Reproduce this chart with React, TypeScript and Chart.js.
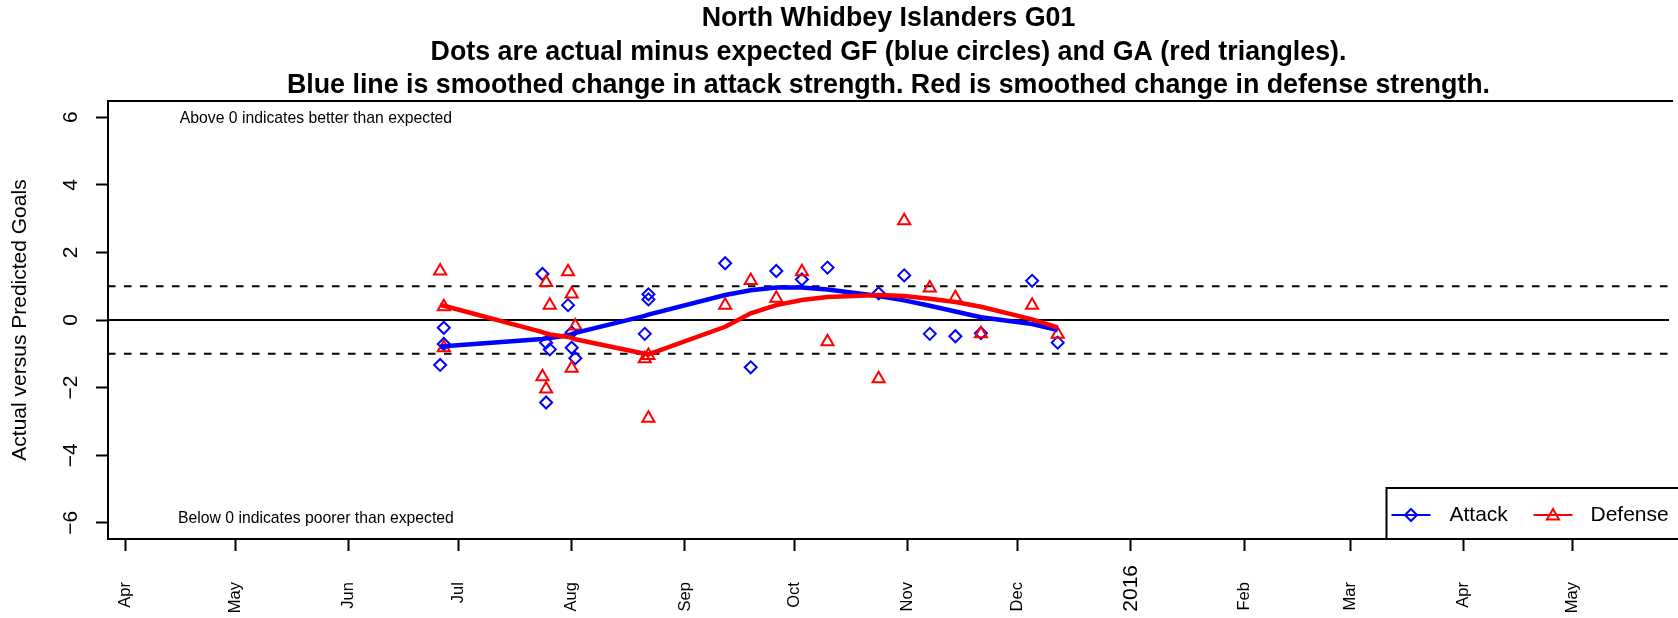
import React, { useEffect, useRef } from 'react';
import { Chart, registerables } from 'chart.js';

Chart.register(...registerables);

const FONT = "'Liberation Sans', Arial, Helvetica, sans-serif";

const titleLines = [
  'North Whidbey Islanders G01',
  'Dots are actual minus expected GF (blue circles) and GA (red triangles).',
  'Blue line is smoothed change in attack strength. Red is smoothed change in defense strength.',
];
const yAxisTitle = 'Actual versus Predicted Goals';
const seriesNames = ['Attack', 'Defense'];

const gameDates = [
  '2015-06-26', '2015-06-27', '2015-06-27', '2015-07-24', '2015-07-25', '2015-07-25',
  '2015-07-26', '2015-07-31', '2015-08-01', '2015-08-01', '2015-08-02', '2015-08-21',
  '2015-08-22', '2015-08-22', '2015-09-12', '2015-09-19', '2015-09-26', '2015-10-03',
  '2015-10-10', '2015-10-24', '2015-10-31', '2015-11-07', '2015-11-14', '2015-11-21',
  '2015-12-05', '2015-12-12',
];
const attackValues = [
  -1.33, -0.23, -0.71, 1.36, -0.67, -2.44,
  -0.87, 0.44, -0.37, -0.82, -1.13, -0.41,
  0.76, 0.61, 1.68, -1.4, 1.45, 1.2,
  1.55, 0.79, 1.32, -0.41, -0.48, -0.39,
  1.16, -0.67,
];
const defenseValues = [
  1.45, 0.39, -0.82, -1.68, 1.11, -2.04,
  0.44, 1.43, 0.77, -1.43, -0.18, -1.15,
  -1.05, -2.91, 0.44, 1.17, 0.64, 1.43,
  -0.64, -1.74, 2.94, 0.95, 0.66, -0.41,
  0.44, -0.42,
];

const smoothDates = [
  '2015-06-26', '2015-06-27', '2015-07-24', '2015-07-25', '2015-07-26', '2015-07-31',
  '2015-08-01', '2015-08-02', '2015-08-21', '2015-08-22', '2015-09-12', '2015-09-19',
  '2015-09-26', '2015-10-03', '2015-10-10', '2015-10-24', '2015-10-31', '2015-11-07',
  '2015-11-14', '2015-11-21', '2015-12-05', '2015-12-12',
];
const attackSmooth = [
  -0.79, -0.78, -0.56, -0.54, -0.53, -0.45,
  -0.42, -0.38, 0.12, 0.16, 0.74, 0.88,
  0.96, 0.96, 0.9, 0.71, 0.58, 0.42,
  0.25, 0.08, -0.12, -0.3,
];
const defenseSmooth = [
  0.44, 0.42, -0.36, -0.4, -0.43, -0.5,
  -0.53, -0.57, -1.0, -1.02, -0.2, 0.2,
  0.44, 0.59, 0.68, 0.74, 0.71, 0.63,
  0.53, 0.39, 0.02, -0.22,
];

const monthTickDates = [
  '2015-04-01', '2015-05-01', '2015-06-01', '2015-07-01', '2015-08-01', '2015-09-01',
  '2015-10-01', '2015-11-01', '2015-12-01', '2016-01-01', '2016-02-01', '2016-03-01',
  '2016-04-01', '2016-05-01',
];
const monthTickLabels = [
  'Apr', 'May', 'Jun', 'Jul', 'Aug', 'Sep', 'Oct', 'Nov', 'Dec', '2016', 'Feb', 'Mar', 'Apr', 'May',
];
const yearLabel = '2016';
const yTickValues = [-6, -4, -2, 0, 2, 4, 6];
const referenceLevels = [0, 1, -1];

const noteAbove = 'Above 0 indicates better than expected';
const noteBelow = 'Below 0 indicates poorer than expected';
const noteDate = '2015-05-23';
const noteAboveY = 5.96;
const noteBelowY = -5.87;

const DAY = 86400000;
const toDay = (s: string) =>
  Date.UTC(Number(s.slice(0, 4)), Number(s.slice(5, 7)) - 1, Number(s.slice(8, 10))) / DAY;

const X_MIN = toDay('2015-04-01') - 4.9;
const X_MAX = X_MIN + 427.2;
const Y_MIN = -6.48;
const Y_MAX = 6.48;

const BLUE = '#0000FF';
const RED = '#FF0000';
const DIAMOND_R = 6;
const TRIANGLE_R = 7;
// month labels sit a little further from the axis than the year label
const MONTH_PAD = '\u00A0\u00A0\u00A0\u2009';

function drawDiamond(ctx: CanvasRenderingContext2D, x: number, y: number, r: number) {
  ctx.beginPath();
  ctx.moveTo(x - r, y);
  ctx.lineTo(x, y - r);
  ctx.lineTo(x + r, y);
  ctx.lineTo(x, y + r);
  ctx.closePath();
  ctx.stroke();
}

function drawTriangle(ctx: CanvasRenderingContext2D, x: number, y: number, r: number) {
  ctx.beginPath();
  ctx.moveTo(x, y - r);
  ctx.lineTo(x + r * 0.866, y + r * 0.5);
  ctx.lineTo(x - r * 0.866, y + r * 0.5);
  ctx.closePath();
  ctx.stroke();
}

const decorPlugin = {
  id: 'decor',
  afterDraw(chart: any) {
    const { ctx, chartArea, scales } = chart;
    const { left, top, right, bottom } = chartArea;
    const xs = scales.x;
    const ys = scales.y;
    ctx.save();
    // top border of the plot box
    ctx.strokeStyle = '#000';
    ctx.lineWidth = 2;
    ctx.beginPath();
    ctx.moveTo(left, top);
    ctx.lineTo(right + 4, top);
    ctx.stroke();

    // notes
    ctx.fillStyle = '#000';
    ctx.font = `15.75px ${FONT}`;
    ctx.textAlign = 'center';
    ctx.textBaseline = 'middle';
    const nx = xs.getPixelForValue(toDay(noteDate));
    ctx.fillText(noteAbove, nx, ys.getPixelForValue(noteAboveY));
    ctx.fillText(noteBelow, nx, ys.getPixelForValue(noteBelowY));

    // legend
    const lx = right - 282.5;
    const ly = bottom - 51;
    ctx.fillStyle = '#fff';
    ctx.fillRect(lx, ly, 300, 51);
    ctx.strokeStyle = '#000';
    ctx.lineWidth = 2;
    ctx.strokeRect(lx, ly, 300, 51);
    const cy = ly + 27;
    ctx.lineWidth = 2;
    ctx.strokeStyle = BLUE;
    ctx.beginPath();
    ctx.moveTo(lx + 5, cy);
    ctx.lineTo(lx + 44, cy);
    ctx.stroke();
    drawDiamond(ctx, lx + 24.5, cy, DIAMOND_R);
    ctx.strokeStyle = RED;
    ctx.beginPath();
    ctx.moveTo(lx + 147, cy);
    ctx.lineTo(lx + 186, cy);
    ctx.stroke();
    drawTriangle(ctx, lx + 166.5, cy + 1, TRIANGLE_R);
    ctx.fillStyle = '#000';
    ctx.font = `21px ${FONT}`;
    ctx.textAlign = 'left';
    ctx.textBaseline = 'middle';
    ctx.fillText(seriesNames[0], lx + 63, cy);
    ctx.fillText(seriesNames[1], lx + 204, cy);
    ctx.restore();
  },
};

export default function App() {
  const canvasRef = useRef<HTMLCanvasElement | null>(null);

  useEffect(() => {
    document.body.style.margin = '0';
    const canvas = canvasRef.current;
    if (!canvas) return;
    Chart.defaults.font.family = FONT;
    Chart.defaults.color = '#000';

    const toPts = (dates: string[], vals: number[]) =>
      dates.map((d, i) => ({ x: toDay(d), y: vals[i] }));

    const refSets = referenceLevels.map((lvl) => ({
      type: 'line' as const,
      label: 'ref' + lvl,
      data: [
        { x: X_MIN, y: lvl },
        { x: X_MAX, y: lvl },
      ],
      borderColor: '#000',
      borderWidth: 2,
      borderDash: lvl === 0 ? [] : [7.5, 8.5],
      pointRadius: 0,
      fill: false,
    }));

    const gridOpts = {
      drawOnChartArea: false,
      drawTicks: true,
      tickLength: 12,
      tickColor: '#000',
      tickWidth: 2,
    };
    const borderOpts = { display: true, color: '#000', width: 2 };

    const chart = new Chart(canvas, {
      type: 'scatter',
      data: {
        datasets: [
          {
            type: 'line',
            label: seriesNames[1] + ' smooth',
            data: toPts(smoothDates, defenseSmooth),
            borderColor: RED,
            borderWidth: 4.5,
            pointRadius: 0,
            tension: 0,
            fill: false,
          },
          {
            type: 'line',
            label: seriesNames[0] + ' smooth',
            data: toPts(smoothDates, attackSmooth),
            borderColor: BLUE,
            borderWidth: 4.5,
            pointRadius: 0,
            tension: 0,
            fill: false,
          },
          {
            type: 'scatter',
            label: seriesNames[1],
            data: toPts(gameDates, defenseValues),
            pointStyle: 'triangle',
            pointRadius: TRIANGLE_R,
            pointBorderWidth: 2,
            borderColor: RED,
            backgroundColor: 'rgba(0,0,0,0)',
          },
          {
            type: 'scatter',
            label: seriesNames[0],
            data: toPts(gameDates, attackValues),
            pointStyle: 'rectRot',
            pointRadius: DIAMOND_R,
            pointBorderWidth: 2,
            borderColor: BLUE,
            backgroundColor: 'rgba(0,0,0,0)',
          },
          ...refSets,
        ] as any,
      },
      options: {
        responsive: false,
        animation: false,
        devicePixelRatio: 1,
        events: [],
        layout: { padding: 0 },
        plugins: {
          legend: { display: false },
          tooltip: { enabled: false },
          title: {
            display: true,
            text: titleLines,
            fullSize: false,
            color: '#000',
            font: { size: 26.8, weight: 'bold', lineHeight: '33.5px', family: FONT },
            padding: { top: 2, bottom: -1.5 },
          },
        },
        scales: {
          x: {
            type: 'linear',
            min: X_MIN,
            max: X_MAX,
            afterBuildTicks: (s: any) => {
              s.ticks = monthTickDates.map((d) => ({ value: toDay(d) }));
            },
            afterFit: (s: any) => {
              s.height = 79;
            },
            ticks: {
              autoSkip: false,
              minRotation: 90,
              maxRotation: 90,
              padding: 14,
              color: '#000',
              font: (c: any) => ({
                size: monthTickLabels[c.index] === yearLabel ? 21 : 16.5,
                family: FONT,
              }),
              callback: (_v: any, i: number) =>
                monthTickLabels[i] === yearLabel ? monthTickLabels[i] : monthTickLabels[i] + MONTH_PAD,
            },
            grid: gridOpts,
            border: borderOpts,
          },
          y: {
            type: 'linear',
            min: Y_MIN,
            max: Y_MAX,
            afterBuildTicks: (s: any) => {
              s.ticks = yTickValues.map((v) => ({ value: v }));
            },
            afterFit: (s: any) => {
              s.width = 108;
            },
            ticks: {
              minRotation: 90,
              maxRotation: 90,
              crossAlign: 'center',
              padding: 13.3,
              color: '#000',
              font: { size: 21, family: FONT },
              callback: (v: any) => String(v).replace('-', '\u2212'),
            },
            grid: gridOpts,
            border: borderOpts,
            title: {
              display: true,
              text: yAxisTitle,
              color: '#000',
              font: { size: 21, family: FONT },
              padding: { top: 7.3, bottom: 0 },
            },
          },
        },
      },
      plugins: [decorPlugin],
    } as any);

    return () => chart.destroy();
  }, []);

  return (
    <div>
      <canvas ref={canvasRef} width={1678} height={618} style={{ display: 'block' }} />
    </div>
  );
}
